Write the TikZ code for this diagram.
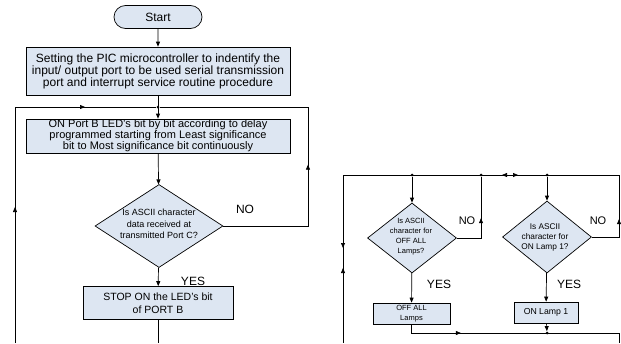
\documentclass[tikz,border=0pt]{standalone}
\usepackage{fontspec}
\setmainfont{Liberation Sans}
\usetikzlibrary{shapes.geometric,shapes.misc,arrows.meta,decorations.markings}
\definecolor{boxfill}{RGB}{221,230,242}

\begin{document}
\begin{tikzpicture}[x=1pt, y=-1pt, line width=0.7pt,
    >={Triangle[length=5pt,width=4pt]},
    box/.style={draw, fill=boxfill, inner sep=0pt, align=center,
      font=\fontsize{10}{12}\selectfont},
    decision/.style={draw, fill=boxfill, diamond, inner sep=0pt},
    dtext/.style={align=center, inner sep=0pt},
    answer/.style={inner sep=0pt, font=\fontsize{12}{12}\selectfont},
    dot/.style={circle, fill, inner sep=0pt, minimum size=3pt},
    arrow at/.style={postaction={decorate, decoration={markings,
      mark=at position #1 with {\arrow{>}}}}},
    back at/.style={postaction={decorate, decoration={markings,
      mark=at position #1 with {\arrow{<}}}}}]
  \useasboundingbox (0,0) rectangle (621,343);
  % Main flow
  \node[box, rounded rectangle, minimum width=88pt, minimum height=23pt,
    font=\fontsize{12}{12}\selectfont] (start) at (158,17) {Start};
  \node[box, minimum width=264pt, minimum height=48pt,
    font=\fontsize{12}{12}\selectfont] (init) at (158,71)
    {Setting the PIC microcontroller to indentify the\\
     input/ output port to be used serial transmission\\
     port and interrupt service routine procedure};
  \node[box, minimum width=264pt, minimum height=34pt,
    font=\fontsize{11}{11}\selectfont] (leds) at (158,136)
    {ON Port B LED's bit by bit according to delay\\
     programmed starting from Least significance\\
     bit to Most significance bit continuously};
  \node[decision, minimum width=128pt, minimum height=83pt] (ask) at (159,226) {};
  \node[dtext, font=\fontsize{9}{11.5}\selectfont] (asktxt) at (159,224)
    {Is ASCII character\\ data received at\\ transmitted Port C?};
  \node[box, minimum width=150pt, minimum height=33pt,
    font=\fontsize{10.5}{13}\selectfont] (stop) at (158,303)
    {STOP ON the LED's bit\\ of PORT B};
  \node[dot] (j1) at (158,107) {};
  \coordinate (loopL) at (15,107);
  \coordinate (loopB) at (15,343);
  \coordinate (loopR) at (308,107);
  \coordinate (noL) at (308,226);
  \coordinate (endL) at (158,343);

  \draw[->] (start) -- (init);
  \draw[->] (init) -- (leds);
  \draw[->] (leds) -- (ask);
  \draw[->] (ask) -- (stop);
  \draw (stop) -- (endL);
  \draw[arrow at=136pt, arrow at=306pt] (loopB) -- (loopL) -- (j1);
  \draw[arrow at=146pt] (ask.east) -- (noL) -- (loopR) -- (j1);
  \node[answer] (noa) at (245,209) {NO};
  \node[answer] (yesa) at (193,281) {YES};

  % Lamp decisions
  \node[decision, minimum width=89pt, minimum height=70pt] (off?) at (412,238) {};
  \node[dtext, font=\fontsize{7.5}{10}\selectfont] (offtxt) at (411,237)
    {Is ASCII\\ character for\\ OFF ALL\\ Lamps?};
  \node[decision, minimum width=89pt, minimum height=72pt] (on?) at (547,237) {};
  \node[dtext, font=\fontsize{8.3}{10}\selectfont] (ontxt) at (545,237)
    {Is ASCII\\ character for\\ ON Lamp 1?};
  \node[box, minimum width=77pt, minimum height=21pt,
    font=\fontsize{7.5}{10}\selectfont] (off) at (411.5,313.5) {OFF ALL\\ Lamps};
  \node[box, minimum width=64pt, minimum height=21pt,
    font=\fontsize{8.7}{10}\selectfont] (on) at (546,312.5) {ON Lamp 1};
  \node[dot] (j2) at (412,175) {};
  \node[dot] (j3) at (481,175) {};
  \node[dot] (j4) at (547,175) {};
  \node[dot] (j5) at (547,333) {};
  \coordinate (topL) at (343,175);
  \coordinate (topR) at (619,175);
  \coordinate (botL) at (343,343);
  \coordinate (no1) at (481,238);
  \coordinate (no2) at (619,237);
  \coordinate (botC) at (411.5,333);
  \coordinate (botR) at (619,333);
  \coordinate (botE) at (619,343);

  \draw[arrow at=73pt, back at=98pt] (topL) -- (botL);
  \draw[back at=164pt, arrow at=175pt] (topL) -- (topR);
  \draw[->] (j2) -- (off?);
  \draw[->] (j4) -- (on?);
  \draw[arrow at=44pt] (off?.east) -- (no1) -- (j3);
  \draw[arrow at=45pt] (on?.east) -- (no2) -- (topR);
  \draw[->] (off?) -- (off);
  \draw[->] (on?) -- (on);
  \draw[arrow at=58pt] (off) -- (botC) -- (botR) -- (botE);
  \draw[->] (on) -- (j5);
  \node[answer, font=\fontsize{11}{11}\selectfont] (no1a) at (467,221) {NO};
  \node[answer, font=\fontsize{11}{11}\selectfont] (no2a) at (598,221) {NO};
  \node[answer] (yes1a) at (439,284) {YES};
  \node[answer] (yes2a) at (569,284) {YES};
\end{tikzpicture}
\end{document}
